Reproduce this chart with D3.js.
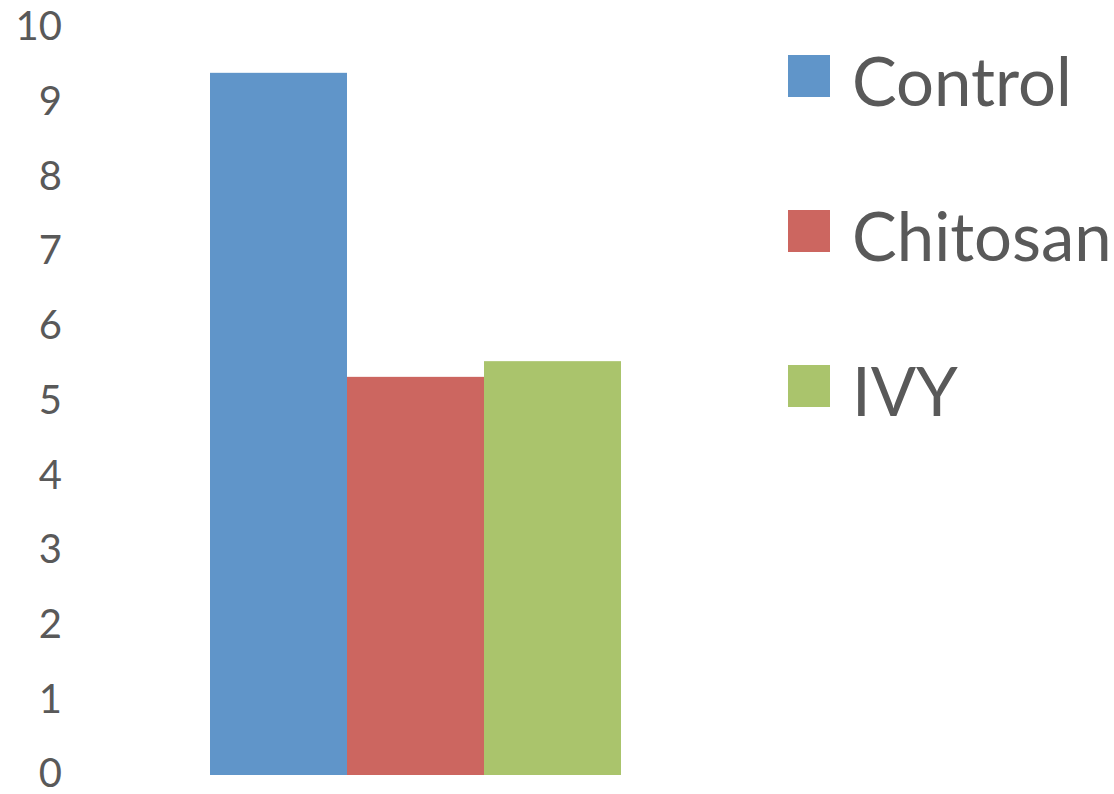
<!DOCTYPE html>
<html><head><meta charset="utf-8">
<script src="https://cdn.jsdelivr.net/npm/d3@7"></script>
<style>body{margin:0;background:#fff}svg{display:block}</style>
</head><body>
<svg id="c" width="1114" height="794"></svg>
<script>
const series = ["Control", "Chitosan", "IVY"];
const values = [9.4, 5.33, 5.54];
const colors = ["#6095C9", "#CC6660", "#AAC46C"];
const yTicks = [0,1,2,3,4,5,6,7,8,9,10];

const svg = d3.select("#c");
const font = "Lato, 'Open Sans', sans-serif";
const y = d3.scaleLinear().domain([0,10]).range([775,28]);
const x = d3.scaleBand().domain(series).range([210,621]).padding(0);

const ax = svg.append("g").attr("transform","translate(62,-1)")
  .call(d3.axisLeft(y).tickValues(yTicks).tickSize(0).tickPadding(0).tickFormat(d3.format("d")));
ax.select(".domain").remove();
ax.selectAll("text").attr("font-family",font).attr("font-size",40).attr("fill","#595959");

svg.selectAll("rect.bar").data(series).join("rect").attr("class","bar")
  .attr("x",d=>x(d)).attr("width",x.bandwidth())
  .attr("y",(d,i)=>y(values[i])).attr("height",(d,i)=>y(0)-y(values[i]))
  .attr("fill",(d,i)=>colors[i]);

const lg = svg.append("g");
const item = lg.selectAll("g").data(series).join("g")
  .attr("transform",(d,i)=>`translate(788,${55+i*155})`);
item.append("rect").attr("width",42).attr("height",42).attr("fill",(d,i)=>colors[i]);
item.append("text").attr("x",64).attr("y",51).text(d=>d)
  .attr("font-family",font).attr("font-size",67).attr("fill","#595959");
</script>
</body></html>
